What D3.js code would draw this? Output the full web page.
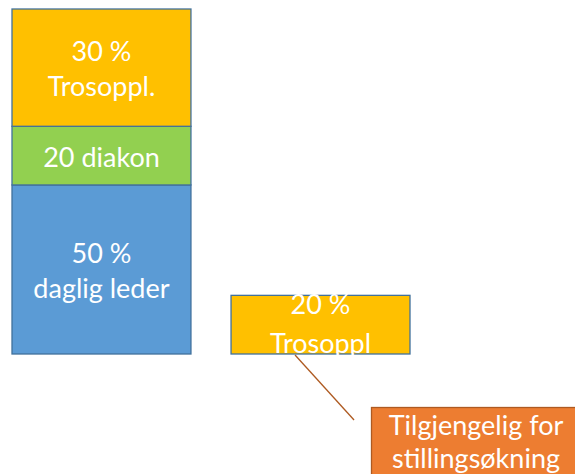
<!DOCTYPE html>
<html>
<head>
<meta charset="utf-8">
<script src="https://cdn.jsdelivr.net/npm/d3@7"></script>
<style>
  html, body { margin: 0; padding: 0; background: #fff; }
  svg { display: block; }
  text { font-family: Lato, "Open Sans", sans-serif; fill: #fff; }
</style>
</head>
<body>
<svg id="svg"></svg>
<script>
"use strict";

// columns
var categories = ["Stillinger", "Ledig"];

// stacked segments, bottom to top (height in % of the full column)
var segNames  = ["daglig leder", "diakon", "Trosoppl."];
var segValues = [49, 17, 34];
var segLabels = [["50 %", "daglig leder"], ["20 diakon"], ["30 %", "Trosoppl."]];
var segColors = ["#5B9BD5", "#92D050", "#FFC000"];

// second column
var freeValue  = 17;
var freeLabels = ["20 %", "Trosoppl"];
var freeColor  = "#FFC000";

var calloutLines = ["Tilgjengelig for", "stillingsøkning"];

var width = 575, height = 474, fs = "27px";

var svg = d3.select("#svg")
	.attr("width", width)
	.attr("height", height);

var x = d3.scaleBand()
	.domain(categories)
	.range([12, 410])
	.paddingInner(0.183)
	.paddingOuter(0);

var y = d3.scaleLinear()
	.domain([0, 100])
	.range([354, 9]);

// build stack
var acc = 0;
var stackData = segValues.map(function(v, i){
	var d = {name: segNames[i], y0: acc, y1: acc + v, label: segLabels[i], color: segColors[i]};
	acc += v;
	return d;
});

var g1 = svg.append("g").attr("class", "col1");

g1.selectAll("rect")
	.data(stackData)
	.enter()
	.append("rect")
	.attr("x", x(categories[0]))
	.attr("width", x.bandwidth())
	.attr("y", function(d){ return y(d.y1); })
	.attr("height", function(d){ return y(d.y0) - y(d.y1); })
	.style("fill", function(d){ return d.color; })
	.style("stroke", "#41719C")
	.style("stroke-width", 1.3);

g1.selectAll("text.seg")
	.data(stackData)
	.enter()
	.append("text")
	.attr("class", "seg")
	.attr("text-anchor", "middle")
	.attr("x", x(categories[0]) + x.bandwidth()/2)
	.attr("y", function(d){
		var mid = (y(d.y0) + y(d.y1))/2;
		return mid + 11 - (d.label.length - 1) * 35/2;
	})
	.style("font-size", fs)
	.each(function(d){
		var t = d3.select(this), x0 = t.attr("x");
		d.label.forEach(function(line, i){
			t.append("tspan")
				.attr("x", x0)
				.attr("dy", i === 0 ? 0 : 35)
				.text(line);
		});
	});

// second column
var g2 = svg.append("g").attr("class", "col2");
var bx = x(categories[1]);

g2.append("rect")
	.attr("x", bx)
	.attr("width", x.bandwidth())
	.attr("y", y(freeValue))
	.attr("height", y(0) - y(freeValue))
	.style("fill", freeColor)
	.style("stroke", "#41719C")
	.style("stroke-width", 1.3);

var t2 = g2.append("text")
	.attr("text-anchor", "middle")
	.attr("x", bx + x.bandwidth()/2)
	.attr("y", y(freeValue) + 19)
	.style("font-size", fs);

freeLabels.forEach(function(line, i){
	t2.append("tspan")
		.attr("x", bx + x.bandwidth()/2)
		.attr("dy", i === 0 ? 0 : 39)
		.text(line);
});

// callout
var cx = bx + 64, cy = y(0) + 1;

svg.append("line")
	.attr("x1", cx)
	.attr("y1", cy)
	.attr("x2", cx + 59)
	.attr("y2", cy + 65)
	.style("stroke", "#AE5A21")
	.style("stroke-width", 1.3);

var cg = svg.append("g").attr("class", "callout");

cg.append("rect")
	.attr("x", 371.5)
	.attr("y", 407.5)
	.attr("width", 210)
	.attr("height", 80)
	.style("fill", "#ED7D31")
	.style("stroke", "#AE5A21")
	.style("stroke-width", 1.3);

var ct = cg.append("text")
	.attr("text-anchor", "middle")
	.attr("x", 476)
	.attr("y", 435)
	.style("font-size", fs);

calloutLines.forEach(function(line, i){
	ct.append("tspan")
		.attr("x", 476)
		.attr("dy", i === 0 ? 0 : 33)
		.text(line);
});
</script>
</body>
</html>
